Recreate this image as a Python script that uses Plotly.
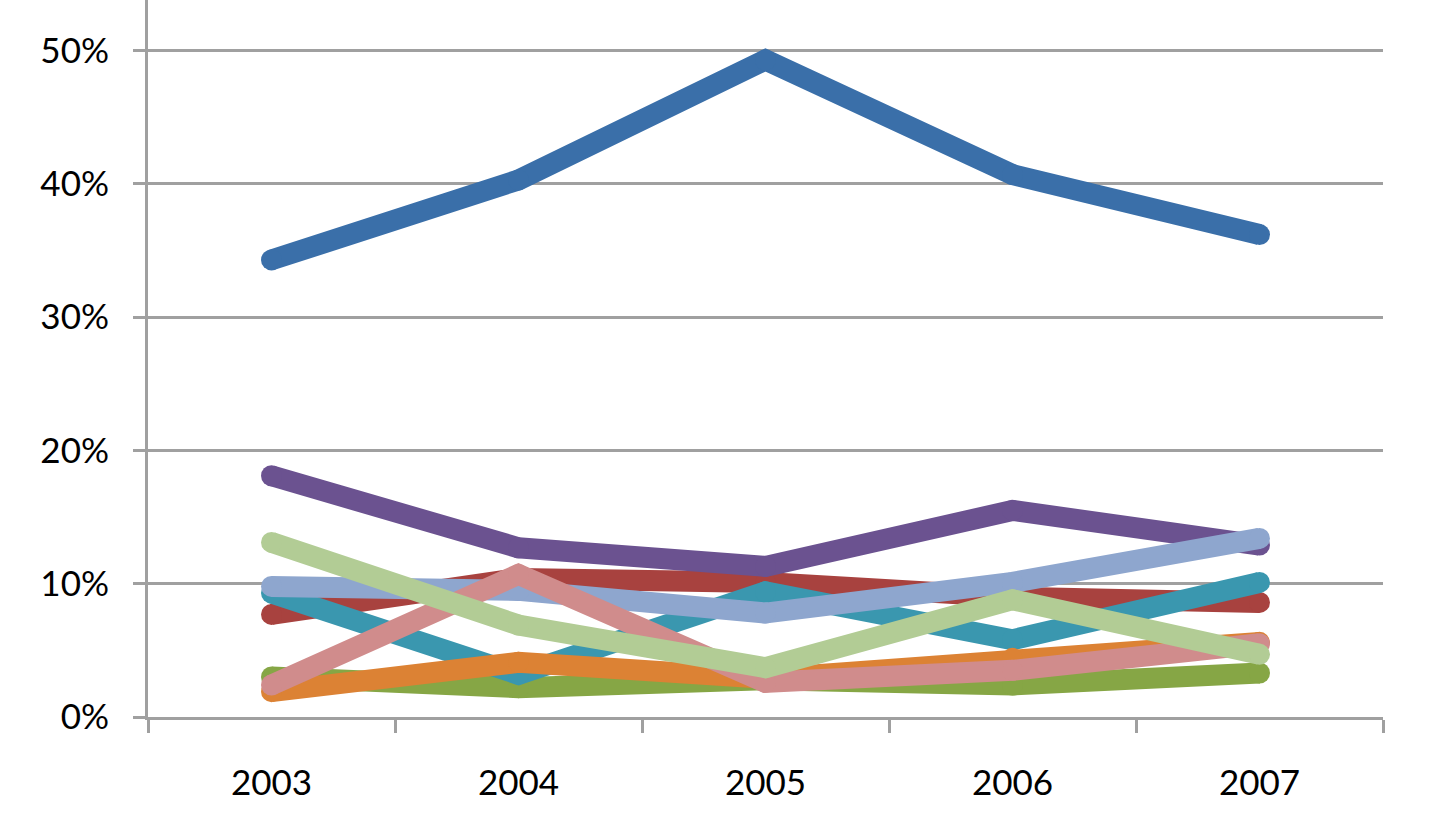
import plotly.graph_objects as go

years = ["2003", "2004", "2005", "2006", "2007"]

# values in fraction (percent / 100), in Excel draw order
blue        = [0.343, 0.403, 0.493, 0.407, 0.362]
red         = [0.077, 0.104, 0.101, 0.090, 0.086]
green       = [0.030, 0.022, 0.028, 0.024, 0.033]
purple      = [0.181, 0.127, 0.113, 0.155, 0.129]
teal        = [0.093, 0.032, 0.094, 0.058, 0.101]
orange      = [0.019, 0.041, 0.029, 0.044, 0.056]
light_blue  = [0.098, 0.095, 0.078, 0.101, 0.134]
pink        = [0.024, 0.107, 0.026, 0.035, 0.055]
light_green = [0.131, 0.069, 0.037, 0.088, 0.047]

series = [
    ("Series 1", blue, "#3A6FA9"),
    ("Series 2", red, "#A8423F"),
    ("Series 3", green, "#86A645"),
    ("Series 4", purple, "#6B5290"),
    ("Series 5", teal, "#3A97AF"),
    ("Series 6", orange, "#DC8234"),
    ("Series 7", light_blue, "#8EA6CE"),
    ("Series 8", pink, "#D08C8C"),
    ("Series 9", light_green, "#B2CC95"),
]

y_ticks = [0, 0.1, 0.2, 0.3, 0.4, 0.5]
y_tick_labels = ["0%", "10%", "20%", "30%", "40%", "50%"]

fig = go.Figure()
for name, vals, color in series:
    fig.add_trace(go.Scatter(
        x=years, y=vals, name=name, mode="lines+markers",
        line=dict(color=color, width=21),
        marker=dict(color=color, size=21, line=dict(width=0)),
        showlegend=False, hoverinfo="skip", cliponaxis=False,
    ))

font = dict(family="Lato, 'Open Sans', sans-serif", size=35, color="#000000")
grid = "#A0A0A0"

fig.update_layout(
    width=1441, height=839,
    margin=dict(l=148, r=58, t=0, b=122, autoexpand=False),
    paper_bgcolor="white", plot_bgcolor="white",
    font=font,
    xaxis=dict(
        type="category", range=[-0.5, 4.5], tickson="boundaries",
        ticks="outside", ticklen=13, tickwidth=3, tickcolor=grid,
        showline=True, linecolor=grid, linewidth=3,
        showgrid=False, zeroline=False, automargin=False,
        ticklabelstandoff=33, tickfont=font,
    ),
    yaxis=dict(
        range=[0, 0.538], tickvals=y_ticks, ticktext=y_tick_labels,
        ticks="outside", ticklen=12, tickwidth=3, tickcolor=grid,
        showline=True, linecolor=grid, linewidth=3,
        showgrid=True, gridcolor=grid, gridwidth=3, automargin=False,
        zeroline=False, ticklabelstandoff=17, tickfont=font,
    ),
)

fig.write_html(
    "out.html",
    config={"displayModeBar": False, "staticPlot": True},
    post_script="document.body.style.margin='0';document.body.style.overflow='hidden';",
)
